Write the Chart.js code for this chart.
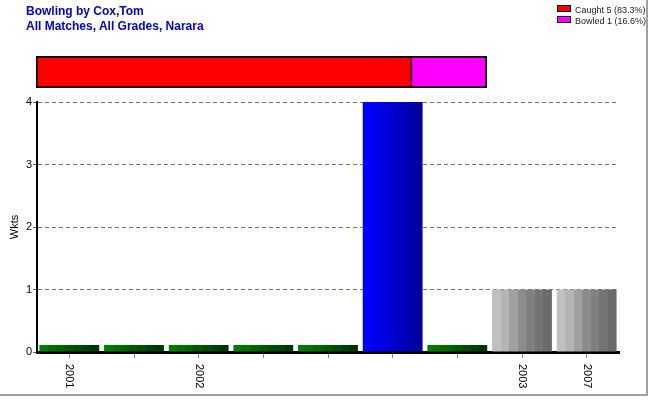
<!DOCTYPE html>
<html>
<head>
<meta charset="utf-8">
<script src="https://cdn.jsdelivr.net/npm/chart.js@4.4.0/dist/chart.umd.min.js"></script>
<style>
    body { margin: 0; background: #fff; font-family: "Liberation Sans", Arial, sans-serif; }
    #page { position: relative; width: 650px; height: 400px; overflow: hidden; }
    #frame { position: absolute; left: 0; top: 0; width: 646px; height: 394px;
             border-right: 2px solid #a0a0a0; border-bottom: 2px solid #a0a0a0; }
    .title { position: absolute; left: 26px; color: #0000d0; font-weight: bold; font-size: 12px; }
    #legend { position: absolute; left: 557px; top: 5px; font-size: 9px; color: #202020; }
    #legend div { height: 11px; line-height: 11px; white-space: nowrap; }
    #legend span.box { display: inline-block; width: 12px; height: 5px; border: 1px solid #000;
                       margin-right: 4px; vertical-align: 1px; }
    #mainChart { position: absolute; left: 0; top: 0; }
    #splitChart { position: absolute; left: 36px; top: 56px; border: 1px solid #000; }
</style>
</head>
<body>
<div id="page">
    <canvas id="mainChart" width="650" height="400"></canvas>
    <canvas id="splitChart" width="451" height="32"></canvas>
    <div class="title" style="top:4px">Bowling by Cox,Tom</div>
    <div class="title" style="top:19px">All Matches, All Grades, Narara</div>
    <div id="legend"></div>
    <div id="frame"></div>
</div>
<script>
// ===== Data =====
const seasons = ['2001', '', '2002', '', '', '', '', '2003', '2007'];
const wickets = [0, 0, 0, 0, 0, 4, 0, 1, 1];
const yTicks = [0, 1, 2, 3, 4];

const dismissalNames = ['Caught', 'Bowled'];
const dismissalCounts = [5, 1];
const dismissalPercents = ['83.3%', '16.6%'];
const dismissalColors = ['#ff0000', '#ff00ff'];

// ===== Bar shading =====
const greenBands = ['#007c00', '#007000', '#006400', '#005800', '#004c00', '#004000', '#003400'];
const blueBands = ['#0000ff', '#0000f0', '#0000e0', '#0000d0', '#0000c0', '#0000b0', '#0000a0'];
const greyBands = ['#c0c0c0', '#b4b4b4', '#a0a0a0', '#8c8c8c', '#808080', '#747474', '#6a6a6a'];
const barPct = 0.925;

function bandsFor(value) {
    if (value === 0) return greenBands;
    if (value === Math.max(...wickets)) return blueBands;
    return greyBands;
}

function shadedBar(context) {
    const bands = bandsFor(context.raw);
    const chart = context.chart;
    const xScale = chart.scales.x;
    if (!chart.chartArea || !xScale) return bands[0];
    const center = xScale.getPixelForValue(context.dataIndex);
    const half = xScale.width / seasons.length * barPct / 2;
    const grad = chart.ctx.createLinearGradient(center - half, 0, center + half, 0);
    bands.forEach((c, i) => {
        grad.addColorStop(i / bands.length, c);
        grad.addColorStop((i + 1) / bands.length - 0.001, c);
    });
    return grad;
}

// rotated season labels, reading top to bottom
const seasonLabels = {
    id: 'seasonLabels',
    afterDraw(chart) {
        const ctx = chart.ctx;
        const xScale = chart.scales.x;
        ctx.save();
        ctx.font = '11px "Liberation Sans", Arial, sans-serif';
        ctx.fillStyle = '#000';
        ctx.textAlign = 'left';
        ctx.textBaseline = 'middle';
        seasons.forEach((label, i) => {
            if (!label) return;
            const x = xScale.getPixelForValue(i);
            ctx.save();
            ctx.translate(x, chart.chartArea.bottom + 12);
            ctx.rotate(Math.PI / 2);
            ctx.fillText(label, 0, 0);
            ctx.restore();
        });
        ctx.restore();
    }
};

// ===== Main chart =====
new Chart(document.getElementById('mainChart'), {
    type: 'bar',
    data: {
        labels: seasons,
        datasets: [{
            data: wickets,
            backgroundColor: shadedBar,
            borderWidth: 0,
            minBarLength: 7,
            barPercentage: barPct,
            categoryPercentage: 1
        }]
    },
    options: {
        responsive: false,
        animation: false,
        layout: { padding: { top: 102, right: 31, left: 0, bottom: 0 } },
        plugins: { legend: { display: false }, tooltip: { enabled: false } },
        scales: {
            x: {
                grid: { drawOnChartArea: false, drawTicks: true, tickLength: 6, color: '#808080', offset: false },
                border: { color: '#000', width: 3 },
                ticks: { display: false },
                afterFit(scale) { scale.height = 48; }
            },
            y: {
                min: 0,
                max: 4,
                afterBuildTicks(scale) { scale.ticks = yTicks.map(v => ({ value: v })); },
                grid: { color: '#707070', tickLength: 4, tickColor: '#606060' },
                border: { color: '#000', width: 2, dash: [4, 3] },
                ticks: { color: '#000', font: { size: 11, family: '"Liberation Sans", Arial' }, padding: 1 },
                title: { display: true, text: 'Wkts', color: '#000', font: { size: 11, family: '"Liberation Sans", Arial' }, padding: { top: 8, bottom: 0 } },
                afterFit(scale) { scale.width = 37; }
            }
        }
    },
    plugins: [seasonLabels]
});

// ===== Dismissal split bar =====
new Chart(document.getElementById('splitChart'), {
    type: 'bar',
    data: {
        labels: [''],
        datasets: dismissalNames.map((name, i) => ({
            label: name,
            data: [dismissalCounts[i]],
            backgroundColor: dismissalColors[i],
            borderColor: '#000',
            borderWidth: 1,
            borderSkipped: false,
            barPercentage: 1,
            categoryPercentage: 1
        }))
    },
    options: {
        indexAxis: 'y',
        responsive: false,
        animation: false,
        layout: { padding: 0 },
        plugins: { legend: { display: false }, tooltip: { enabled: false } },
        scales: {
            x: { stacked: true, display: false, min: 0, max: dismissalCounts.reduce((a, b) => a + b, 0) },
            y: { stacked: true, display: false }
        }
    }
});

// ===== Legend =====
const legend = document.getElementById('legend');
dismissalNames.forEach((name, i) => {
    const row = document.createElement('div');
    row.innerHTML = `<span class="box" style="background:${dismissalColors[i]}"></span>${name} ${dismissalCounts[i]} (${dismissalPercents[i]})`;
    legend.appendChild(row);
});
</script>
</body>
</html>
